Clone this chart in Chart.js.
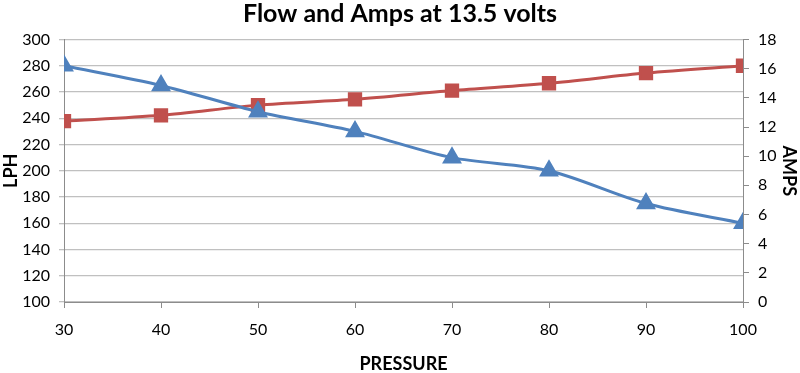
<!DOCTYPE html>
<html>
<head>
<meta charset="utf-8">
<script src="https://cdn.jsdelivr.net/npm/chart.js@4"></script>
<style>
html,body{margin:0;padding:0;background:#fff;}
#wrap{width:800px;height:373px;}
</style>
</head>
<body>
<div id="wrap"><canvas id="c" width="800" height="373"></canvas></div>
<script>
const pressure = [30, 40, 50, 60, 70, 80, 90, 100];
const lph = [280, 265, 245, 230, 210, 200, 175, 160];
const amps = [12.4, 12.8, 13.5, 13.9, 14.5, 15.0, 15.7, 16.2];
const titleText = 'Flow and Amps at 13.5 volts';

const FONT = 'Lato, "Open Sans", sans-serif';
const gridColor = '#c0c0c0';
const axisColor = '#8c8c8c';
const blue = '#4F81BD';
const red = '#C0504D';

new Chart(document.getElementById('c'), {
  type: 'line',
  data: {
    datasets: [
      {
        label: 'LPH',
        data: pressure.map((p, i) => ({x: p, y: lph[i]})),
        borderColor: blue, backgroundColor: blue,
        borderWidth: 3, pointStyle: 'triangle', pointRadius: 8.5, pointHoverRadius: 8.5,
        tension: 0.3, yAxisID: 'y'
      },
      {
        label: 'AMPS',
        data: pressure.map((p, i) => ({x: p, y: amps[i]})),
        borderColor: red, backgroundColor: red,
        borderWidth: 3, pointStyle: 'rect', pointRadius: 8, pointHoverRadius: 8,
        tension: 0.3, yAxisID: 'y1'
      }
    ]
  },
  options: {
    responsive: false,
    animation: false,
    layout: {padding: {left: 0, right: 0, top: 0, bottom: 0}},
    plugins: {
      legend: {display: false},
      tooltip: {enabled: false},
      title: {
        display: true, text: titleText, color: '#000',
        font: {family: FONT, size: 25, weight: 'bold', lineHeight: 1.1},
        padding: {top: 0, bottom: 12}
      }
    },
    scales: {
      x: {
        type: 'linear', min: 30, max: 100,
        ticks: {stepSize: 10, color: '#000', font: {family: FONT, size: 16}, padding: 12},
        grid: {drawOnChartArea: false, drawTicks: true, tickLength: 6, color: axisColor},
        border: {color: axisColor, width: 1},
        title: {display: true, text: 'PRESSURE', color: '#000', font: {family: FONT, size: 18, weight: 'bold', lineHeight: 1.0}, padding: {top: 9, bottom: 0}},
        afterFit: s => { s.height = 71; }
      },
      y: {
        position: 'left', min: 100, max: 300,
        ticks: {stepSize: 20, color: '#000', font: {family: FONT, size: 16}, padding: 9},
        grid: {color: gridColor, drawTicks: true, tickLength: 5, lineWidth: 1.3},
        border: {color: axisColor, width: 1},
        title: {display: true, text: 'LPH', color: '#000', font: {family: FONT, size: 18, weight: 'bold'}, padding: {top: 0, bottom: 2}},
        afterFit: s => { s.width = 64; }
      },
      y1: {
        position: 'right', min: 0, max: 18,
        ticks: {stepSize: 2, color: '#000', font: {family: FONT, size: 16}, padding: 9},
        grid: {drawOnChartArea: false, drawTicks: true, tickLength: 6, color: axisColor},
        border: {color: axisColor, width: 1},
        title: {display: true, text: 'AMPS', color: '#000', font: {family: FONT, size: 18, weight: 'bold'}, padding: 0},
        afterFit: s => { s.width = 57; }
      }
    }
  }
});
</script>
</body>
</html>
